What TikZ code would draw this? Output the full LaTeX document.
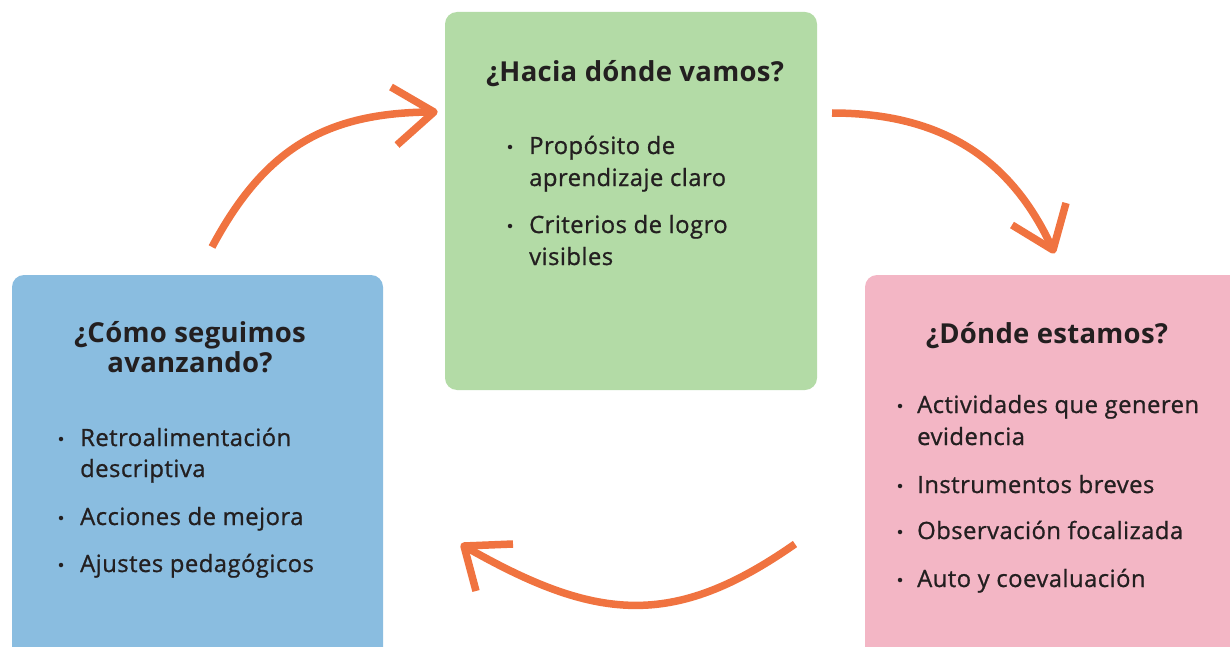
\documentclass[tikz,border=0pt]{standalone}
\usepackage{fontspec}
\setmainfont{Open Sans}[Ligatures=NoCommon]
\newfontfamily\itemfont{Open Sans}[LetterSpace=2, FakeBold=0.9, Ligatures=NoCommon]
\newfontfamily\titlefont{Open Sans}[LetterSpace=1, Ligatures=NoCommon]
\definecolor{ink}{HTML}{231F20}
\definecolor{gbox}{HTML}{B3DBA6}
\definecolor{bbox}{HTML}{8ABDE0}
\definecolor{pbox}{HTML}{F3B6C5}
\definecolor{arr}{HTML}{F07340}
\begin{document}
\begin{tikzpicture}[x=1pt,y=-1pt,
  panel/.style={rounded corners=12pt, draw=none, inner sep=0, minimum width=#1},
  ttl/.style={font=\titlefont\fontsize{27.5}{32}\selectfont\bfseries, text=ink, anchor=base, inner sep=0},
  itm/.style={font=\itemfont\fontsize{23.8}{32}\selectfont, text=ink, anchor=base west, inner sep=0},
  dot/.style={circle, fill=ink, draw=none, inner sep=0, minimum size=4.5pt},
  flow/.style={draw=arr, line width=7.5pt},
  head/.style={draw=arr, line width=7.5pt, line join=round}]
\useasboundingbox (0,0) rectangle (1230,647);
\clip (0,0) rectangle (1230,647);
% panels
\node[panel=372pt, minimum height=378pt, fill=gbox] (green) at (631,201) {};
\node[panel=371pt, minimum height=385pt, fill=bbox] (blue) at (197.5,467.5) {};
\node[panel=380pt, minimum height=385pt, fill=pbox] (pink) at (1055,467.5) {};
% green text
\node[ttl] (gt) at (635,82) {¿Hacia dónde vamos?};
\node[dot] (gd1) at (510,147) {};
\node[itm] (g1a) at (529,154) {Propósito de};
\node[itm] (g1b) at (529,186) {aprendizaje claro};
\node[dot] (gd2) at (510,226) {};
\node[itm] (g2a) at (529,233) {Criterios de logro};
\node[itm] (g2b) at (529,265) {visibles};
% blue text
\node[ttl] (bt1) at (190,342) {¿Cómo seguimos};
\node[ttl] (bt2) at (190,372) {avanzando?};
\node[dot] (bd1) at (61,439) {};
\node[itm] (b1a) at (80,446) {Retroalimentación};
\node[itm] (b1b) at (80,477) {descriptiva};
\node[dot] (bd2) at (61,518) {};
\node[itm] (b2) at (80,525) {Acciones de mejora};
\node[dot] (bd3) at (61,565) {};
\node[itm] (b3) at (80,572) {Ajustes pedagógicos};
% pink text
\node[ttl] (pt) at (1047,343) {¿Dónde estamos?};
\node[dot] (pd1) at (900,406) {};
\node[itm] (p1a) at (917,413) {Actividades que generen};
\node[itm] (p1b) at (917,445) {evidencia};
\node[dot] (pd2) at (900,486) {};
\node[itm] (p2) at (917,493) {Instrumentos breves};
\node[dot] (pd3) at (900,532) {};
\node[itm] (p3) at (917,539) {Observación focalizada};
\node[dot] (pd4) at (900,580) {};
\node[itm] (p4) at (917,587) {Auto y coevaluación};
% arrows
\coordinate (a1s) at (212,247);
\coordinate (a1t) at (434,112);
\coordinate (a1u) at (391,87);
\coordinate (a1d) at (397,145);
\draw[flow] (a1s) .. controls (264,150) and (324,112) .. (a1t);
\draw[head] (a1u) -- (a1t) -- (a1d);
\coordinate (a2s) at (832,113);
\coordinate (a2t) at (1053,250);
\coordinate (a2u) at (1012,225);
\coordinate (a2d) at (1066,203);
\draw[flow] (a2s) .. controls (942,113) and (1012,159) .. (a2t);
\draw[head] (a2u) -- (a2t) -- (a2d);
\coordinate (a3s) at (795,544);
\coordinate (a3t) at (464,546);
\coordinate (a3u) at (513,544);
\coordinate (a3d) at (476,591);
\draw[flow] (a3s) .. controls (672,630) and (595,621) .. (a3t);
\draw[head] (a3u) -- (a3t) -- (a3d);
\end{tikzpicture}
\end{document}
